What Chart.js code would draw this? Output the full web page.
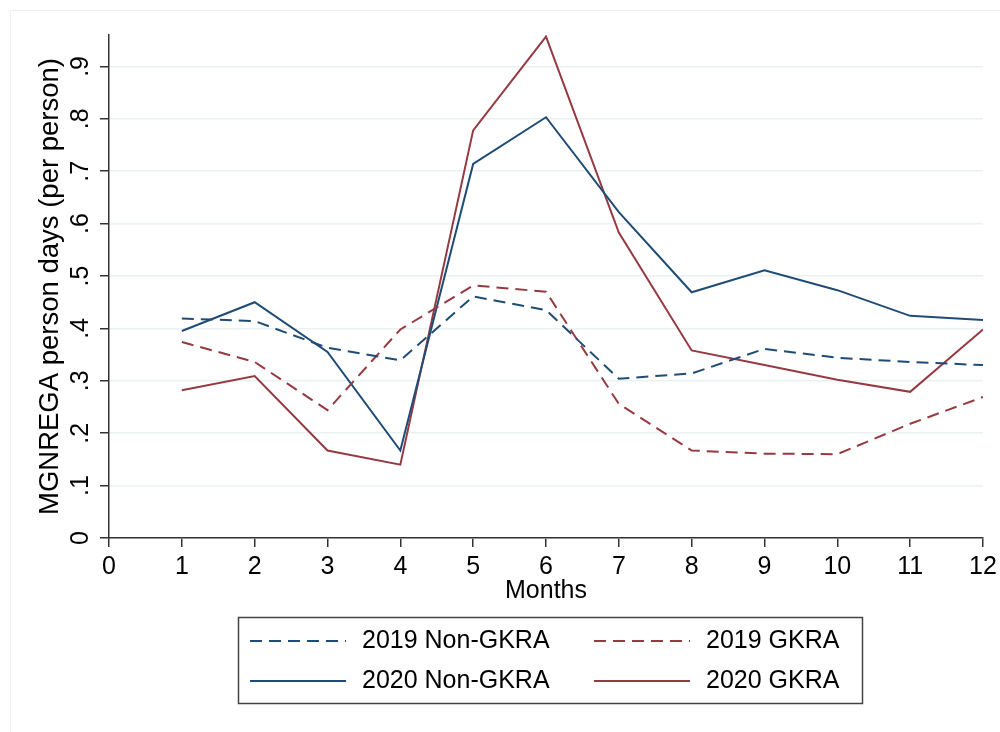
<!DOCTYPE html>
<html>
<head>
<meta charset="utf-8">
<script src="https://cdn.jsdelivr.net/npm/chart.js@4.4.0/dist/chart.umd.min.js"></script>
<style>
  html, body { margin: 0; padding: 0; background: #fff; }
  #wrap { width: 1000px; height: 732px; }
</style>
</head>
<body>
<div id="wrap"><canvas id="chart" width="1000" height="732"></canvas></div>
<script>
// ── data ──
const months = [1, 2, 3, 4, 5, 6, 7, 8, 9, 10, 11, 12];
const nonGkra2019 = [0.419, 0.414, 0.363, 0.339, 0.461, 0.435, 0.304, 0.314, 0.361, 0.344, 0.336, 0.330];
const gkra2019    = [0.374, 0.336, 0.244, 0.398, 0.482, 0.470, 0.256, 0.167, 0.161, 0.160, 0.218, 0.269];
const nonGkra2020 = [0.395, 0.450, 0.355, 0.167, 0.714, 0.803, 0.622, 0.469, 0.511, 0.473, 0.424, 0.416];
const gkra2020    = [0.282, 0.309, 0.167, 0.140, 0.778, 0.957, 0.583, 0.358, 0.330, 0.302, 0.279, 0.398];
const xTicks = [0, 1, 2, 3, 4, 5, 6, 7, 8, 9, 10, 11, 12];

const NAVY = '#1f4c75';
const MAROON = '#963a42';
const DASH = [12, 7];
const FONT = "'Liberation Sans', Arial, sans-serif";

const pts = vals => months.map((m, i) => ({ x: m, y: vals[i] }));

Chart.defaults.font.family = FONT;
Chart.defaults.color = '#000';

// boxed two-column legend like Stata's, plus the faint outer frame
const stataLegend = {
  id: 'stataLegend',
  afterDraw(chart) {
    const ctx = chart.ctx;
    ctx.save();
    ctx.strokeStyle = '#efefef';
    ctx.lineWidth = 1;
    ctx.strokeRect(10.5, 10.5, 1000, 1000);

    ctx.strokeStyle = '#444';
    ctx.lineWidth = 1.5;
    ctx.strokeRect(238.5, 617.5, 624, 86);

    const cols = [250, 594];
    const rows = [641, 681];
    ctx.font = '25px ' + FONT;
    ctx.textBaseline = 'middle';
    ctx.fillStyle = '#000';
    chart.data.datasets.forEach((ds, i) => {
      const x = cols[i % 2], y = rows[Math.floor(i / 2)];
      ctx.beginPath();
      ctx.strokeStyle = ds.borderColor;
      ctx.lineWidth = ds.borderWidth;
      ctx.setLineDash(ds.borderDash || []);
      ctx.moveTo(x, y);
      ctx.lineTo(x + 96, y);
      ctx.stroke();
      ctx.setLineDash([]);
      ctx.fillText(ds.label, x + 112, y);
    });
    ctx.restore();
  }
};

new Chart(document.getElementById('chart'), {
  type: 'line',
  data: {
    datasets: [
      { label: '2019 Non-GKRA', data: pts(nonGkra2019), borderColor: NAVY, borderDash: DASH },
      { label: '2019 GKRA', data: pts(gkra2019), borderColor: MAROON, borderDash: DASH },
      { label: '2020 Non-GKRA', data: pts(nonGkra2020), borderColor: NAVY },
      { label: '2020 GKRA', data: pts(gkra2020), borderColor: MAROON },
    ].map(d => Object.assign({ borderWidth: 2, pointRadius: 0, tension: 0, fill: false }, d)),
  },
  options: {
    responsive: false,
    devicePixelRatio: 1,
    animation: false,
    layout: { padding: { top: 35, right: 17, bottom: 126, left: 0 } },
    plugins: { legend: { display: false }, tooltip: { enabled: false } },
    scales: {
      x: {
        type: 'linear', min: 0, max: 12,
        afterBuildTicks: s => { s.ticks = xTicks.map(v => ({ value: v })); },
        afterFit: s => { s.height = 68; s.paddingLeft = 0; s.paddingRight = 0; },
        ticks: { font: { size: 25 }, padding: 5, maxRotation: 0, color: '#000' },
        grid: { drawOnChartArea: false, drawTicks: true, tickLength: 9, color: '#333', lineWidth: 1.5 },
        border: { color: '#333', width: 1.5 },
        title: { display: true, text: 'Months', font: { size: 25 }, padding: { top: 0, bottom: 0 }, color: '#000' },
      },
      y: {
        min: 0, max: 0.96,
        afterFit: s => { s.width = 109; },
        ticks: {
          stepSize: 0.1, includeBounds: false,
          minRotation: 90, maxRotation: 90, crossAlign: 'center',
          padding: 8, font: { size: 25 }, color: '#000',
          callback: v => v === 0 ? '0' : (+v).toFixed(1).replace(/^0/, ''),
        },
        grid: { color: '#eaf1f3', lineWidth: 1.5, tickColor: '#333', tickLength: 9, tickWidth: 1.5 },
        border: { color: '#333', width: 1.5 },
        title: { display: true, text: 'MGNREGA person days (per person)', font: { size: 27.5 }, padding: { top: 34, bottom: 0 }, color: '#000' },
      },
    },
  },
  plugins: [stataLegend],
});
</script>
</body>
</html>
